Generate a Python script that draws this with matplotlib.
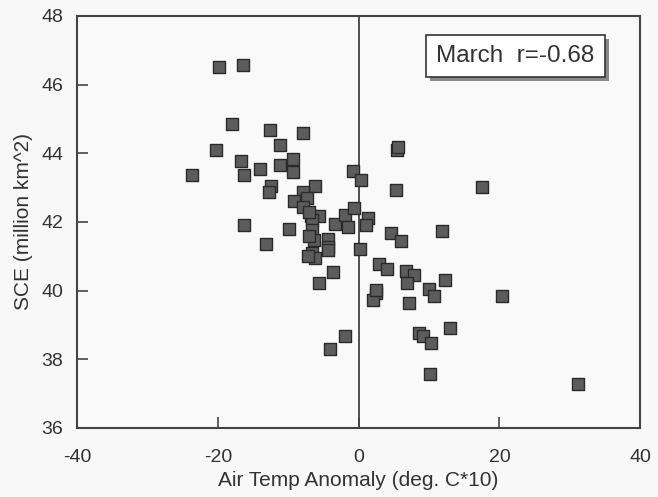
import matplotlib
matplotlib.use("Agg")
import matplotlib.pyplot as plt
import matplotlib.patheffects as pe

plt.rcParams['font.family'] = ['Liberation Sans', 'DejaVu Sans']
plt.rcParams['axes.unicode_minus'] = False

# March air temp anomaly (deg C*10) vs snow cover extent (million km^2)
temp = [-23.6, -19.9, -16.4, -18.0, -20.3, -16.7, -16.3, -14.0, -12.6, -11.2,
        -11.2, -9.3, -9.3, -7.9, -12.4, -12.7, -6.2, -7.9, -9.2, -16.3,
        -9.9, -13.1, -7.3, -7.9, -6.7, -5.6, -6.6, -3.3, -1.9, -0.6,
        -1.5, -0.8, 0.4, 1.4, 1.1, -6.6, -6.4, -4.3, -4.3, 0.2,
        5.5, 5.6, 5.3, 17.5, 11.9, 4.6, 6.0, -6.6, -6.2, -4.3,
        -3.6, -5.6, 2.9, 4.0, 2.4, 2.1, 2.5, -1.9, -4.0, 6.7,
        7.8, 6.9, 12.3, 10.0, 10.7, 7.2, 20.4, 13.0, 8.6, 9.2,
        10.3, 10.2, 31.2, -7.0, -7.1, -7.2]
sce = [43.37, 46.51, 46.57, 44.85, 44.10, 43.78, 43.37, 43.54, 44.68, 44.24,
       43.66, 43.83, 43.46, 44.59, 43.05, 42.87, 43.05, 42.87, 42.60, 41.90,
       41.80, 41.36, 42.70, 42.44, 42.17, 42.17, 42.06, 41.94, 42.20, 42.41,
       41.85, 43.49, 43.22, 42.12, 41.91, 41.77, 41.47, 41.50, 41.27, 41.21,
       44.10, 44.18, 42.93, 43.02, 41.74, 41.68, 41.45, 41.10, 40.95, 41.18,
       40.54, 40.22, 40.78, 40.63, 39.93, 39.73, 40.02, 38.68, 38.30, 40.58,
       40.46, 40.22, 40.31, 40.05, 39.85, 39.64, 39.85, 38.91, 38.77, 38.68,
       38.47, 37.57, 37.28, 42.30, 41.60, 41.00]
label = "March  r=-0.68"

fig = plt.figure(figsize=(6.58, 4.97), dpi=100, facecolor='#f8f8f8')
ax = fig.add_axes([0.117, 0.139, 0.856, 0.829])
ax.set_facecolor('#f9f9f9')

ax.axvline(0, color='#333333', lw=1.2, zorder=1)
ax.scatter(temp, sce, marker='s', s=85, facecolor='#5c5c5c',
           edgecolor='#2a2a2a', linewidth=1.0, zorder=3)

ax.set_xlim(-40, 40)
ax.set_ylim(36, 48)
ax.set_xticks([-40, -20, 0, 20, 40])
ax.set_yticks([36, 38, 40, 42, 44, 46, 48])
ax.tick_params(direction='in', length=8, width=1.2, color='#444444',
               labelsize=14, labelcolor='#333333')
ax.tick_params(axis='x', pad=15)
ax.tick_params(axis='y', pad=10)
for s in ax.spines.values():
    s.set_color('#444444')
    s.set_linewidth(1.5)

ax.set_xlabel("Air Temp Anomaly (deg. C*10)", fontsize=15, color='#333333', labelpad=4)
ax.set_ylabel("SCE (million km^2)", fontsize=15, color='#333333', labelpad=6)

ax.text(0.778, 0.903, label, transform=ax.transAxes, ha='center', va='center',
        fontsize=17.5, color='#333333',
        bbox=dict(boxstyle='square,pad=0.42', facecolor='white',
                  edgecolor='#333333', linewidth=1.2,
                  path_effects=[pe.withSimplePatchShadow(offset=(3, -3), shadow_rgbFace='#888888', alpha=1)]))

fig.savefig("out.png", dpi=100, facecolor=fig.get_facecolor())
